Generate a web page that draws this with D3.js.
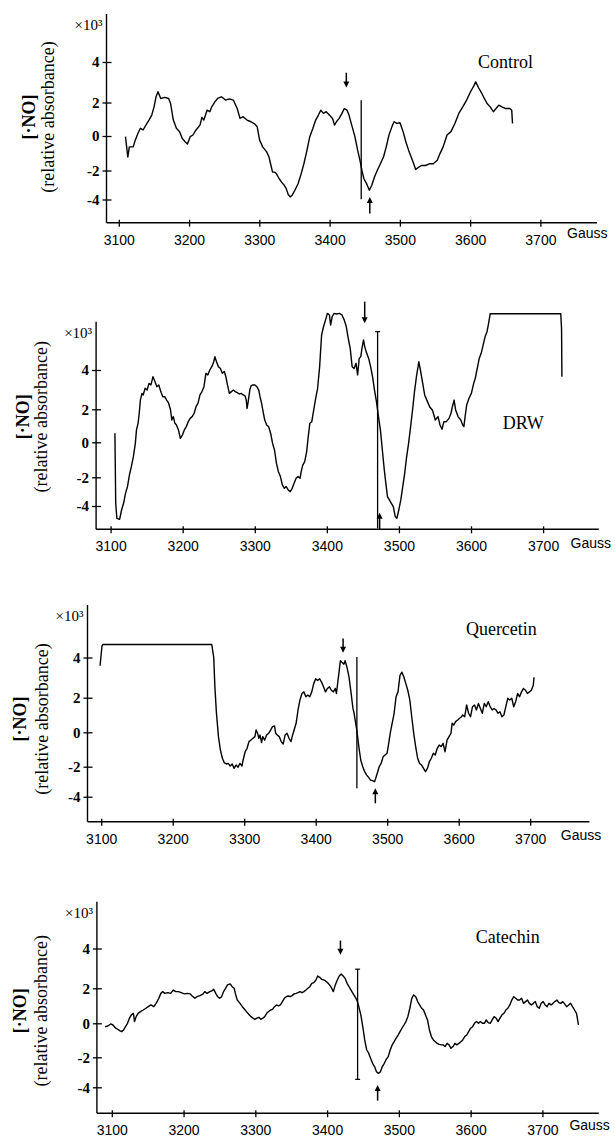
<!DOCTYPE html>
<html><head><meta charset="utf-8">
<script src="https://cdn.jsdelivr.net/npm/d3@7"></script>
<style>body{margin:0;background:#fff}svg{display:block}</style>
</head><body>
<svg id="c" width="615" height="1137"></svg>
<script>
const xTicks=[3100,3200,3300,3400,3500,3600,3700];
const yTicks=[-4,-2,0,2,4];
const yTickLabels=["-4","-2","0","2","4"];
const sampleNames=["Control","DRW","Quercetin","Catechin"];

const controlData=[[3109.5,-0.04],[3112.8,-1.22],[3115,-0.63],[3120.6,-0.63],[3123.4,-0.24],[3127.3,0.16],[3130.7,0.46],[3134.6,0.36],[3138.5,0.65],[3143,0.95],[3146.9,1.25],[3150.2,1.74],[3153,2.28],[3155.8,2.53],[3159.7,2.2],[3165.3,2.25],[3170.9,2.2],[3173.7,1.94],[3177.6,0.95],[3182,0.46],[3186.5,0.26],[3190.4,-0.14],[3194.3,-0.33],[3197.7,-0.47],[3201.6,-0.04],[3205.5,0.06],[3209.9,0.36],[3215.5,0.65],[3218.3,1.11],[3221.1,0.95],[3225.6,1.54],[3229.5,1.45],[3232.3,1.74],[3236.7,2.03],[3240.6,2.2],[3246.2,2.28],[3251.8,2.12],[3257.4,2.18],[3263,2.12],[3268.5,1.64],[3272.5,1.05],[3276.9,1.15],[3282.5,0.95],[3288.1,0.85],[3293.7,0.71],[3297,0.55],[3300.4,-0.24],[3304.8,-0.63],[3310.4,-0.92],[3313.8,-1.22],[3316,-1.61],[3318.8,-2.11],[3321.6,-2.11],[3324.4,-2.23],[3328.3,-2.57],[3331.6,-2.8],[3335.5,-3.02],[3338.3,-3.25],[3341.1,-3.66],[3343.9,-3.82],[3346.7,-3.7],[3350.6,-3.36],[3355.1,-2.91],[3359.5,-2.23],[3363.4,-1.61],[3367.3,-0.92],[3371.8,-0.04],[3376.3,0.46],[3380.2,0.95],[3384.1,1.25],[3387.4,1.54],[3391.3,1.35],[3395.2,1.45],[3399.7,1.25],[3404.2,1.05],[3407,0.65],[3409.7,0.85],[3413.7,1.05],[3417.6,1.35],[3420.9,1.64],[3424.8,1.54],[3427.6,1.25],[3431.5,0.65],[3436,-0.04],[3439.9,-0.82],[3443.2,-1.41],[3446,-2],[3448.8,-2.57],[3452.7,-2.91],[3456.6,-3.36],[3460,-3.02],[3463.9,-2.45],[3467.8,-2],[3472.3,-1.61],[3476.7,-1.22],[3480.6,-0.63],[3484.5,0.06],[3489,0.59],[3491.8,0.85],[3495.7,0.75],[3500.2,0.79],[3504.6,0.26],[3508.5,-0.33],[3512.4,-0.82],[3516.9,-1.31],[3519.7,-1.61],[3522.5,-1.94],[3527,-1.8],[3530.8,-1.71],[3536.4,-1.71],[3542,-1.61],[3547.6,-1.61],[3553.2,-1.41],[3557.1,-1.02],[3561.6,-0.63],[3567.1,0.06],[3572.7,0.26],[3578.3,0.75],[3583.9,1.35],[3589.5,1.74],[3595,2.12],[3600.6,2.53],[3605.1,2.81],[3607.9,3.02],[3611.8,2.74],[3616.2,2.48],[3620.2,2.2],[3624.1,1.94],[3628.5,1.74],[3633,1.45],[3636.9,1.64],[3640.8,1.84],[3645.3,1.74],[3650.8,1.64],[3656.4,1.64],[3659.2,1.54],[3660.3,0.75]];

const drwData=[[3106,0.55],[3107.1,-3.81],[3108.7,-4.86],[3112.5,-4.93],[3115.2,-4.28],[3118,-3.81],[3120.7,-3.12],[3123.4,-2.65],[3126.1,-1.87],[3128.8,-1.39],[3131.6,-0.82],[3134.3,-0.06],[3135.9,0.75],[3138.1,1.15],[3139.7,1.76],[3141.3,2.47],[3143.5,2.81],[3145.2,2.73],[3147.9,3.07],[3150.6,2.98],[3153.3,3.32],[3156,3.24],[3158.8,3.66],[3161.5,3.41],[3164.2,3.15],[3166.9,3.24],[3169.6,2.9],[3172.4,2.64],[3175.1,2.64],[3177.8,2.47],[3180.5,2.31],[3183.2,1.96],[3184.9,1.35],[3187,1.56],[3189.2,1.15],[3191.4,1.05],[3194.1,0.75],[3196.8,0.24],[3199.6,0.44],[3202.3,0.75],[3205,0.95],[3207.7,1.25],[3210.4,1.45],[3213.2,1.56],[3215.9,1.76],[3218.6,2.14],[3221.3,2.31],[3224,2.73],[3226.8,2.9],[3229.5,3.15],[3232.2,3.83],[3234.9,3.75],[3237.6,4],[3240.4,4.17],[3243.1,4.42],[3244.7,4.68],[3246.9,4.42],[3249.6,4.17],[3252.3,4.08],[3255,3.83],[3257.8,3.92],[3259.9,3.66],[3262.1,3.24],[3264.8,2.81],[3267.6,2.9],[3270.3,2.98],[3273,2.9],[3275.7,2.85],[3278.4,2.78],[3281.2,2.81],[3283.9,2.73],[3286.6,2.68],[3288.2,2.47],[3289.3,2.05],[3290.9,2.39],[3293.1,2.98],[3294.8,3.19],[3297.5,3.24],[3300.2,3.24],[3302.9,3.15],[3305.6,2.98],[3307.3,2.64],[3309.4,2.31],[3311.1,1.96],[3313.8,1.35],[3316.5,1.05],[3319.2,0.95],[3322,0.55],[3324.7,-0.06],[3327.4,-0.44],[3330.1,-1.2],[3332.8,-1.68],[3335.6,-1.96],[3338.3,-2.53],[3341,-2.77],[3343.7,-2.65],[3346.4,-2.88],[3349.2,-3],[3351.9,-2.77],[3354.6,-2.42],[3357.3,-2.07],[3360,-1.96],[3362.8,-2.07],[3364.4,-1.68],[3366.6,-1.3],[3369.3,-1.1],[3372,-0.53],[3374.2,0.34],[3376.4,1.15],[3379.1,1.25],[3381.8,1.96],[3384.5,2.56],[3387.2,3.07],[3390,4.17],[3392.7,5.78],[3395.4,6.2],[3398.1,6.54],[3400.8,6.88],[3403.6,6.8],[3405.2,6.29],[3407.4,6.71],[3410.1,6.88],[3413.3,6.85],[3417.2,6.88],[3421,6.8],[3424.2,6.54],[3427,6.2],[3429.7,5.61],[3432.4,5.1],[3435.1,4.17],[3437.8,4.08],[3440.5,4.34],[3442.7,3.75],[3444.9,4.59],[3447.1,4.68],[3448.7,5.1],[3450.9,5.53],[3452.5,5.19],[3455.2,4.86],[3458,4.59],[3460.7,4.17],[3463.4,3.66],[3466.1,2.98],[3468.8,2.39],[3471.6,1.56],[3474.3,0.75],[3477,-0.44],[3479.7,-1.58],[3482.4,-2.65],[3484.1,-3.35],[3486.8,-3.58],[3489.5,-3.81],[3492.2,-4.05],[3494.9,-4.74],[3497.1,-4.86],[3499.8,-4.28],[3502.6,-3.58],[3505.3,-2.65],[3508,-1.77],[3510.7,-0.82],[3513.4,-0.06],[3516.2,0.95],[3518.9,1.96],[3521.6,2.9],[3524.3,3.66],[3527.6,4.42],[3529.8,4],[3533,3.32],[3535.7,2.73],[3539.6,2.39],[3542.8,2.12],[3546.6,1.94],[3550.4,1.35],[3554.2,1.56],[3557,1.05],[3559.7,0.79],[3562.4,1.25],[3565.7,1.25],[3569.5,1.45],[3572.2,1.76],[3574.4,2.17],[3576.5,2.47],[3578.7,1.96],[3582,1.56],[3585.8,1.35],[3588.5,1.05],[3590.1,0.95],[3591.8,1.56],[3594,2.22],[3597.2,2.56],[3600.5,2.81],[3603.7,3.32],[3605.9,3.58],[3609.2,4.17],[3611.4,4.59],[3614.1,4.85],[3616.8,5.27],[3619.5,5.69],[3622.2,5.95],[3624.4,6.37],[3626.6,6.86],[3724.5,6.86],[3725.6,6.12],[3726.1,3.66]];

const quercetinData=[[3098.4,3.59],[3101.1,4.57],[3102.2,4.65],[3254.6,4.65],[3257.4,4],[3259,2.54],[3261.2,1.1],[3264,-0.25],[3266.7,-1.03],[3269.5,-1.51],[3272.2,-1.77],[3274.9,-1.84],[3277.7,-1.81],[3280.4,-1.96],[3283.2,-1.84],[3285.9,-2.11],[3288.6,-1.9],[3291.4,-2.04],[3294.1,-1.81],[3296.9,-1.96],[3298.5,-1.61],[3301.3,-1.13],[3304,-0.93],[3306.7,-0.54],[3309.5,-0.45],[3312.2,-0.35],[3315,-0.25],[3316.6,0.13],[3318.8,-0.06],[3320.5,-0.35],[3322.1,-0.16],[3324.3,-0.6],[3325.9,-0.25],[3328.7,-0.45],[3331.4,-0.16],[3334.2,-0.06],[3336.9,0.13],[3339.6,0.33],[3342.4,0.37],[3344,-0.06],[3346.2,-0.16],[3349,-0.25],[3351.7,-0.54],[3354.5,-0.68],[3357.2,-0.16],[3359.9,-0.06],[3362.7,-0.35],[3365.4,-0.54],[3367.1,-0.25],[3369.8,0.13],[3372.6,0.52],[3375.3,1.29],[3378,1.87],[3380.8,2.21],[3383.5,2.29],[3386.3,2.05],[3389,2.13],[3391.7,2.05],[3394.5,2.29],[3397.2,2.7],[3400,2.94],[3402.7,2.86],[3405.5,2.94],[3408.2,2.78],[3410.9,2.54],[3413.7,2.29],[3416.4,2.46],[3419.2,2.54],[3421.9,2.37],[3424.7,2.29],[3427.4,2.46],[3429,2.21],[3431.2,2.86],[3432.9,3.35],[3434.5,3.84],[3436.7,3.76],[3439.5,3.67],[3441.1,3.84],[3443.8,3.51],[3446.6,3.02],[3449.3,2.29],[3452.1,1.38],[3453.7,1.1],[3454.8,0.81],[3457.5,0.13],[3460.3,-0.83],[3463,-1.61],[3465.8,-2],[3468.5,-2.33],[3471.3,-2.56],[3474,-2.71],[3476.7,-2.89],[3479.5,-2.93],[3482.2,-3],[3483.9,-2.78],[3486.1,-2.44],[3488.8,-2],[3491.5,-1.81],[3494.3,-1.42],[3497,-1.32],[3499.8,-1.22],[3501.4,-0.83],[3504.2,-0.06],[3506.9,0.52],[3509.7,1.1],[3512.4,2.05],[3515.1,2.29],[3517.9,3.11],[3520.6,3.27],[3523.4,3.02],[3526.1,2.7],[3528.8,2.37],[3531.6,1.87],[3534.3,0.9],[3537.1,-0.06],[3539.8,-0.83],[3542.6,-1.51],[3545.3,-1.81],[3548,-1.9],[3550.8,-2.11],[3553.5,-2.33],[3556.3,-2.11],[3559,-1.71],[3561.7,-1.51],[3564.5,-1.22],[3567.2,-1.32],[3570,-0.93],[3572.7,-0.74],[3575.5,-0.83],[3578.2,-0.64],[3580.9,-1.13],[3583.7,-0.45],[3586.4,-0.25],[3589.2,-0.06],[3590.8,0.52],[3593,0.42],[3595.7,0.62],[3598.5,0.71],[3601.2,0.81],[3604,0.9],[3605.6,1],[3608.4,0.9],[3611.1,1.58],[3613.8,1.1],[3616.6,0.9],[3619.3,1.48],[3622.1,1.58],[3624.8,1.29],[3627.6,1.67],[3630.3,1.38],[3633,1.1],[3635.8,1.67],[3638.5,1.48],[3641.3,1.77],[3644,1.48],[3646.8,1.29],[3649.5,1.38],[3652.2,1.29],[3655,1.1],[3657.7,1.19],[3660.5,0.9],[3663.2,1],[3665.9,1.48],[3668.7,1.97],[3671.4,1.87],[3674.2,1.97],[3676.9,1.48],[3679.7,1.77],[3682.4,2.21],[3685.1,2.05],[3687.9,2.29],[3690.6,2.46],[3693.4,2.37],[3696.1,2.21],[3698.9,2.29],[3701.6,2.37],[3704.3,2.62],[3705.4,3.02]];

const catechinData=[[3090.7,-0.2],[3094.5,-0.16],[3098.4,-0.04],[3101.6,-0.1],[3105.5,-0.29],[3108.2,-0.35],[3110.9,-0.43],[3113.7,-0.49],[3116.4,-0.39],[3119.1,-0.2],[3121.9,0],[3124.6,0.29],[3127.3,0.48],[3130.1,0.57],[3131.7,0.1],[3133.9,0.38],[3136.6,0.57],[3139.9,0.67],[3143.7,0.76],[3147.5,0.86],[3150.8,0.95],[3154.6,1.05],[3158.5,0.95],[3161.7,1.14],[3165.6,1.43],[3168.3,1.71],[3171,1.81],[3173.8,1.71],[3178.1,1.75],[3182,1.71],[3185.8,1.9],[3189.1,1.81],[3192.9,1.81],[3196.7,1.75],[3201.1,1.68],[3205.5,1.71],[3209.3,1.68],[3212,1.56],[3215.8,1.43],[3218.6,1.52],[3222.9,1.58],[3227.3,1.68],[3229.5,1.81],[3232.8,1.71],[3236.6,1.81],[3239.3,1.85],[3242.1,1.94],[3244.8,1.71],[3247.5,1.52],[3250.3,1.43],[3253,1.52],[3255.7,1.81],[3258.5,2],[3261.2,2.17],[3265,2.22],[3267.7,2.08],[3270.5,2],[3272.1,1.71],[3274.8,1.33],[3278.7,1.14],[3281.9,0.95],[3285.8,0.76],[3289.6,0.57],[3294,0.38],[3296.7,0.29],[3299.4,0.23],[3302.2,0.29],[3304.9,0.34],[3307.6,0.23],[3310.4,0.29],[3313.1,0.38],[3315.8,0.57],[3318.6,0.67],[3321.3,0.76],[3324,0.8],[3326.8,0.95],[3329.5,1.05],[3332.2,0.99],[3335,1.05],[3337.7,1.24],[3340.4,1.43],[3343.1,1.52],[3345.9,1.56],[3348.6,1.52],[3351.3,1.58],[3354.1,1.68],[3356.8,1.71],[3359.5,1.75],[3362.3,1.81],[3365,1.75],[3367.7,1.81],[3370.5,1.9],[3373.2,2],[3375.9,2.08],[3378.7,2.25],[3381.4,2.29],[3384.1,2.39],[3386.9,2.62],[3389.6,2.55],[3392.3,2.45],[3395.1,2.42],[3397.8,2.37],[3400.5,2.29],[3403.3,2.17],[3406,2.03],[3408.7,1.81],[3411.4,2.17],[3414.2,2.42],[3416.9,2.62],[3419.6,2.72],[3422.4,2.62],[3425.1,2.5],[3427.8,2.25],[3430.6,2.08],[3433.3,1.9],[3436,1.71],[3438.8,1.52],[3441.5,1.33],[3444.2,0.95],[3447,0.48],[3449.7,-0.2],[3452.4,-0.98],[3455.2,-1.57],[3457.9,-1.76],[3460.6,-2.07],[3463.4,-2.4],[3466.1,-2.62],[3468.8,-2.96],[3471.6,-3.07],[3474.3,-2.96],[3477,-2.62],[3479.7,-2.4],[3482.5,-2.13],[3485.2,-1.96],[3487.9,-1.57],[3490.7,-1.27],[3493.4,-1.08],[3496.1,-0.88],[3498.9,-0.69],[3501.6,-0.49],[3504.3,-0.29],[3507.1,-0.1],[3509.8,0.1],[3512.5,0.38],[3515.3,0.86],[3518,1.43],[3520.7,1.62],[3523.5,1.52],[3526.2,1.24],[3528.9,1.05],[3531.7,0.86],[3534.4,0.76],[3537.1,0.48],[3539.9,0.19],[3542.6,-0.39],[3545.3,-0.78],[3548,-0.98],[3550.8,-1.08],[3553.5,-1.18],[3556.2,-1.24],[3559,-1.27],[3561.7,-1.27],[3564.4,-1.37],[3567.2,-1.18],[3569.9,-1.27],[3572.6,-1.47],[3575.4,-1.37],[3578.1,-1.18],[3580.8,-1.27],[3583.6,-1.18],[3586.3,-1.08],[3589,-0.98],[3591.8,-0.78],[3594.5,-0.69],[3597.2,-0.49],[3600,-0.29],[3602.7,-0.2],[3605.4,0],[3608.2,0.1],[3610.9,0],[3613.6,0.1],[3616.3,0],[3619.1,0],[3621.8,0.19],[3624.5,0.04],[3627.3,0],[3630,0.19],[3632.7,0.38],[3635.5,0.29],[3638.2,0.1],[3640.9,0.29],[3643.7,0.48],[3646.4,0.57],[3649.1,0.76],[3651.9,0.86],[3654.6,1.05],[3657.3,1.33],[3660.1,1.52],[3662.8,1.43],[3665.5,1.33],[3668.3,1.33],[3671,1.43],[3673.7,1.14],[3676.5,1.24],[3679.2,1.33],[3681.9,1.14],[3684.7,1.05],[3687.4,1.14],[3690.1,1.24],[3692.8,0.95],[3695.6,0.86],[3698.3,1.14],[3701,1.24],[3703.8,1.05],[3706.5,0.95],[3709.2,1.14],[3712,1.05],[3714.7,1.14],[3717.4,1.24],[3720.2,1.33],[3722.9,1.18],[3725.6,1.14],[3728.4,1.24],[3731.1,1.1],[3733.8,0.95],[3736.6,1.05],[3739.3,1.14],[3742,0.95],[3744.8,0.76],[3747.5,0.57],[3749.1,0.19],[3750.2,-0.1]];

const seriesList=[controlData,drwData,quercetinData,catechinData];
// annotations in data units: [gauss, from value, to value]
const downArrows=[[3423.8,3.47,2.74],[3452.5,7.48,6.38],[3438.3,4.95,4.24],[3418.6,4.4,3.68]];
const markerLines=[[3445,2.11,-3.98],[3470.4,5.95,-5.55],[3457.6,4.03,-3.44],[3442.5,2.96,-3.47]];
const upArrows=[[3457.2,-3.82,-4.96],[3473.2,-4.47,-5.62],[3483.4,-3.44,-4.44],[3470.4,-3.85,-4.89]];

// layout (pixels)
const layouts=[
 {axisX:106.5,axisTop:14,axisY:222.7,axisRight:597,x0:118.8,x1:540.4,yPx:[199.5,170.5,136,102.5,62],nameX:478,nameY:68,gaussX:567,gaussY:238,titleY:117,t1:29,t2:48,capTop:false,capBot:false},
 {axisX:96.1,axisTop:321.7,axisY:529.3,axisRight:598.8,x0:110.6,x1:543.1,yPx:[506,477.3,442.3,409.3,370],nameX:502.7,nameY:429,gaussX:570.6,gaussY:548,titleY:416.7,t1:22.5,t2:41,capTop:true,capBot:false},
 {axisX:87.5,axisTop:605,axisY:821.7,axisRight:589.4,x0:101.2,x1:530.2,yPx:[796.7,766.7,732.3,697.7,657.5],nameX:465.9,nameY:635,gaussX:560.8,gaussY:840,titleY:719,t1:19.6,t2:41.2,capTop:false,capBot:false},
 {axisX:96.9,axisTop:901.7,axisY:1113.3,axisRight:598.8,x0:111.8,x1:542.4,yPx:[1087.3,1057.3,1023.3,988.3,948.5],nameX:475.7,nameY:943,gaussX:569.4,gaussY:1130,titleY:1010.8,t1:19.6,t2:41,capTop:true,capBot:true}
];

const serif='"Liberation Serif","Times New Roman",serif';
const sans='"Liberation Sans",Arial,sans-serif';
const svg=d3.select('#c');

layouts.forEach((L,i)=>{
  const g=svg.append('g');
  const x=d3.scaleLinear().domain([xTicks[0],xTicks[xTicks.length-1]]).range([L.x0,L.x1]);
  const y=d3.scaleLinear().domain(yTicks).range(L.yPx);

  // axes lines
  g.append('line').attr('x1',L.axisX).attr('x2',L.axisX).attr('y1',L.axisTop).attr('y2',L.axisY).attr('stroke','#000').attr('stroke-width',1.4);
  g.append('line').attr('x1',L.axisX).attr('x2',L.axisRight).attr('y1',L.axisY).attr('y2',L.axisY).attr('stroke','#000').attr('stroke-width',1.4);

  // x axis ticks/labels
  const xa=d3.axisBottom(x).tickValues(xTicks).tickFormat(d3.format('d')).tickSize(4).tickPadding(10);
  const xg=g.append('g').attr('transform',`translate(0,${L.axisY})`).call(xa);
  xg.select('.domain').remove();
  xg.selectAll('.tick line').attr('y1',-3).attr('y2',4).attr('stroke','#000').attr('stroke-width',1.3);
  xg.selectAll('.tick text').attr('font-family',sans).attr('font-size',14).attr('fill','#000').attr('y',12).attr('dy','0.71em');

  // y axis ticks/labels
  const ya=d3.axisLeft(y).tickValues(yTicks).tickFormat((d,k)=>yTickLabels[k]).tickSize(4).tickPadding(7);
  const yg=g.append('g').attr('transform',`translate(${L.axisX},0)`).call(ya);
  yg.select('.domain').remove();
  yg.selectAll('.tick line').attr('x1',-4).attr('x2',5).attr('stroke','#000').attr('stroke-width',1.3);
  yg.selectAll('.tick text').attr('font-family',serif).attr('font-size',15).attr('font-weight','bold').attr('fill','#000').attr('x',-7);

  // x10^3
  g.append('text').attr('x',L.axisX-4).attr('y',L.axisTop+16).attr('text-anchor','end').attr('font-family',serif).attr('font-size',15).text('×10³');

  // y-axis title
  g.append('text').attr('transform',`translate(${L.t1},${L.titleY}) rotate(-90)`).attr('text-anchor','middle').attr('dy','0.35em')
    .attr('font-family',serif).attr('font-size',18).attr('font-weight','bold').text('[·NO]');
  g.append('text').attr('transform',`translate(${L.t2},${L.titleY}) rotate(-90)`).attr('text-anchor','middle').attr('dy','0.35em')
    .attr('font-family',serif).attr('font-size',18).text('(relative absorbance)');

  // sample name
  g.append('text').attr('x',L.nameX).attr('y',L.nameY).attr('font-family',serif).attr('font-size',18).text(sampleNames[i]);
  // Gauss
  g.append('text').attr('x',L.gaussX).attr('y',L.gaussY).attr('font-family',sans).attr('font-size',14).text('Gauss');

  // curve
  const line=d3.line().x(d=>x(d[0])).y(d=>y(d[1]));
  g.append('path').datum(seriesList[i]).attr('d',line).attr('fill','none').attr('stroke','#000').attr('stroke-width',1.4).attr('stroke-linejoin','round');

  // marker line
  const m=markerLines[i];
  const mx=x(m[0]);
  g.append('line').attr('x1',mx).attr('x2',mx).attr('y1',y(m[1])).attr('y2',y(m[2])).attr('stroke','#000').attr('stroke-width',1.3);
  if(L.capTop) g.append('line').attr('x1',mx-2.5).attr('x2',mx+2.5).attr('y1',y(m[1])).attr('y2',y(m[1])).attr('stroke','#000').attr('stroke-width',1.2);
  if(L.capBot) g.append('line').attr('x1',mx-2.5).attr('x2',mx+2.5).attr('y1',y(m[2])).attr('y2',y(m[2])).attr('stroke','#000').attr('stroke-width',1.2);

  // down arrow
  const da=downArrows[i];
  const dax=x(da[0]), dy0=y(da[1]), dy1=y(da[2]);
  g.append('line').attr('x1',dax).attr('x2',dax).attr('y1',dy0).attr('y2',dy1-4).attr('stroke','#000').attr('stroke-width',1.5);
  g.append('path').attr('d',`M${dax-3},${dy1-6}L${dax+3},${dy1-6}L${dax},${dy1}Z`).attr('fill','#000');
  // up arrow
  const ua=upArrows[i];
  const uax=x(ua[0]), uy0=y(ua[1]), uy1=y(ua[2]);
  g.append('line').attr('x1',uax).attr('x2',uax).attr('y1',uy0+4).attr('y2',uy1).attr('stroke','#000').attr('stroke-width',1.5);
  g.append('path').attr('d',`M${uax-3},${uy0+6}L${uax+3},${uy0+6}L${uax},${uy0}Z`).attr('fill','#000');
});
</script>
</body></html>
